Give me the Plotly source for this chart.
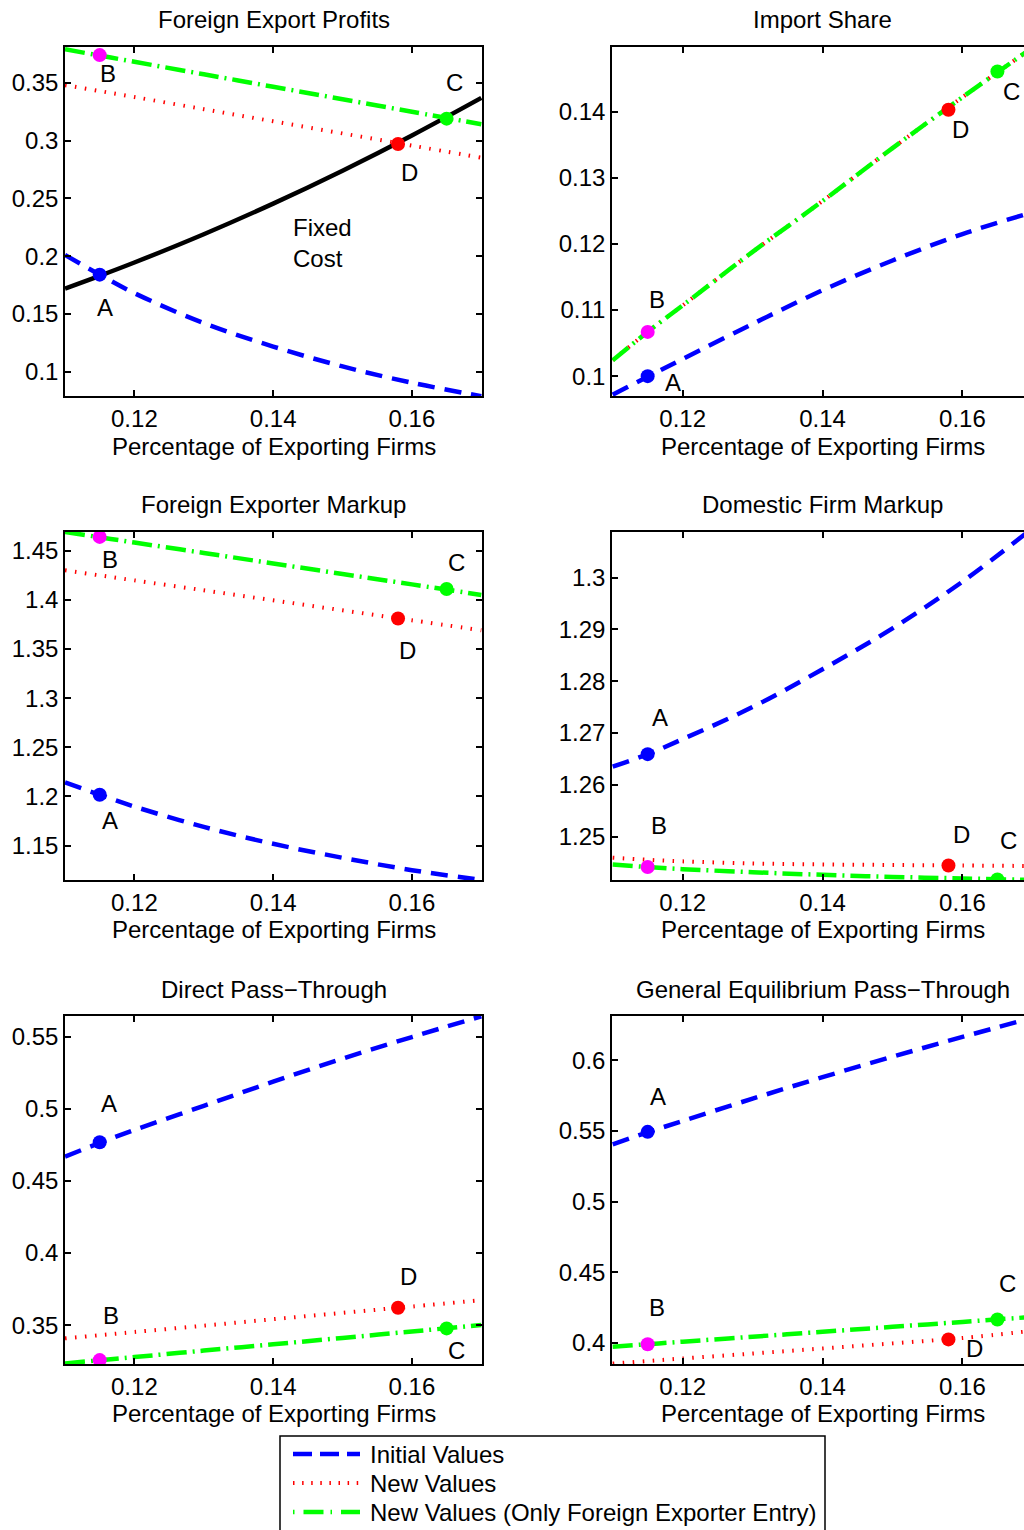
import plotly.graph_objects as go

# ---------------- data ----------------
x_share = [0.11, 0.115, 0.12, 0.13, 0.14, 0.15, 0.16, 0.17]

point_labels = ["A", "B", "C", "D"]
point_x = [0.115, 0.115, 0.165, 0.158]

# Foreign Export Profits
profits_initial = [0.201, 0.184, 0.168, 0.1421, 0.1218, 0.1046, 0.0905, 0.0788]
profits_new = [0.348, 0.3429, 0.3377, 0.3272, 0.3167, 0.3062, 0.2957, 0.2852]
profits_entry = [0.379, 0.3736, 0.3682, 0.3574, 0.3466, 0.3358, 0.3250, 0.3142]
profits_fixed_cost = [0.172, 0.183, 0.1945, 0.219, 0.2455, 0.274, 0.3045, 0.337]
profits_points = [0.184, 0.374, 0.319, 0.297]

# Import Share
import_initial = [0.0972, 0.0999, 0.1026, 0.1079, 0.1130, 0.1175, 0.1215, 0.1248]
import_new = [0.1024, 0.1067, 0.1107, 0.1188, 0.1265, 0.1345, 0.1422, 0.1497]
import_entry = [0.1024, 0.1067, 0.1107, 0.1188, 0.1265, 0.1345, 0.1422, 0.1497]
import_points = [0.1000, 0.1067, 0.1461, 0.1403]

# Foreign Exporter Markup
fmarkup_initial = [1.2143, 1.2017, 1.1897, 1.1690, 1.1518, 1.1376, 1.1250, 1.1150]
fmarkup_new = [1.430, 1.4249, 1.4198, 1.4097, 1.3995, 1.3893, 1.3792, 1.369]
fmarkup_entry = [1.469, 1.4637, 1.4583, 1.4477, 1.4370, 1.4263, 1.4157, 1.405]
fmarkup_points = [1.2017, 1.464, 1.411, 1.381]

# Domestic Firm Markup
dmarkup_initial = [1.2635, 1.2659, 1.2688, 1.2750, 1.2823, 1.2902, 1.2992, 1.3095]
dmarkup_new = [1.2459, 1.2455, 1.2452, 1.2448, 1.2446, 1.2445, 1.2444, 1.2443]
dmarkup_entry = [1.2446, 1.2441, 1.2437, 1.2431, 1.2426, 1.2422, 1.2419, 1.2416]
dmarkup_points = [1.2659, 1.2441, 1.2417, 1.2444]

# Direct Pass-Through
direct_initial = [0.467, 0.4765, 0.4855, 0.5022, 0.5190, 0.5350, 0.5500, 0.5644]
direct_new = [0.3408, 0.3430, 0.3452, 0.3496, 0.3541, 0.3585, 0.3629, 0.3673]
direct_entry = [0.3234, 0.3256, 0.3278, 0.3323, 0.3367, 0.3411, 0.3456, 0.3500]
direct_points = [0.4770, 0.3257, 0.3477, 0.3620]

# General Equilibrium Pass-Through
ge_initial = [0.5405, 0.5490, 0.5570, 0.5728, 0.5880, 0.6025, 0.6165, 0.6300]
ge_new = [0.3853, 0.3871, 0.3889, 0.3924, 0.3960, 0.3996, 0.4034, 0.4085]
ge_entry = [0.3972, 0.3990, 0.4008, 0.4043, 0.4078, 0.4113, 0.4148, 0.4183]
ge_points = [0.5493, 0.3990, 0.4165, 0.4024]

x_ticks = [0.12, 0.14, 0.16]
x_ticktext = ["0.12", "0.14", "0.16"]

titles = ["Foreign Export Profits", "Import Share", "Foreign Exporter Markup",
          "Domestic Firm Markup", "Direct Pass\u2212Through",
          "General Equilibrium Pass\u2212Through"]
x_title = "Percentage of Exporting Firms"
series_names = ["Initial Values", "New Values",
                "New Values (Only Foreign Exporter Entry)"]

y_ticks_1 = [0.1, 0.15, 0.2, 0.25, 0.3, 0.35]
y_ticks_2 = [0.1, 0.11, 0.12, 0.13, 0.14]
y_ticks_3 = [1.15, 1.2, 1.25, 1.3, 1.35, 1.4, 1.45]
y_ticks_4 = [1.25, 1.26, 1.27, 1.28, 1.29, 1.3]
y_ticks_5 = [0.35, 0.4, 0.45, 0.5, 0.55]
y_ticks_6 = [0.4, 0.45, 0.5, 0.55, 0.6]

# ---------------- styling / layout ----------------
W, H = 1024, 1530
FONT = "Liberation Sans, Arial, Helvetica, sans-serif"
FS = 24

BLUE, RED, GREEN, MAGENTA = "#0000ff", "#ff0000", "#00ff00", "#ff00ff"
point_colors = [BLUE, MAGENTA, GREEN, RED]

series_styles = [
    dict(color=BLUE, width=4.5, dash="17px,10px"),
    dict(color=RED, width=4, dash="1.5px,8.5px"),
    dict(color=GREEN, width=4.5, dash="20px,6px,2px,6px"),
]
legend_dashes = ["19px,8px", "1.5px,7.6px", "1.5px,9px,20px,7px"]

col_px = [(65, 482), (612, 1024)]
col_center_px = [273.5, 822.5]
row_px = [(47, 396), (532, 880), (1016, 1364)]
xtitle_px = [446, 930, 1413]
x_ranges = [[0.11, 0.1701], [0.1099, 0.1688]]

y_ranges = [[0.079, 0.381], [0.097, 0.1498], [1.115, 1.469],
            [1.2416, 1.3088], [0.323, 0.5646], [0.385, 0.6313]]

label_shifts = [
    [(5, -33), (8, -18), (8, 36), (11, -28)],
    [(25, -6), (9, 32), (14, -20), (12, -20)],
    [(10, -26), (10, -23), (10, 27), (9, -32)],
    [(12, 37), (11, 42), (11, 39), (13, 31)],
    [(9, 39), (11, 45), (10, -22), (10, 31)],
    [(10, 35), (9, 37), (10, 36), (26, -9)],
]

panels = [
    (profits_initial, profits_new, profits_entry, profits_points, y_ticks_1),
    (import_initial, import_new, import_entry, import_points, y_ticks_2),
    (fmarkup_initial, fmarkup_new, fmarkup_entry, fmarkup_points, y_ticks_3),
    (dmarkup_initial, dmarkup_new, dmarkup_entry, dmarkup_points, y_ticks_4),
    (direct_initial, direct_new, direct_entry, direct_points, y_ticks_5),
    (ge_initial, ge_new, ge_entry, ge_points, y_ticks_6),
]

fig = go.Figure()
annotations = []
shapes = []
layout_axes = {}
tfont = dict(size=FS, color="black", family=FONT)


def fmt(v):
    return ("%.4f" % v).rstrip("0").rstrip(".")


for i, (ini, new, ent, pts, yt) in enumerate(panels):
    n = i + 1
    r, c = divmod(i, 2)
    xa = "x" if n == 1 else "x%d" % n
    ya = "y" if n == 1 else "y%d" % n
    x0, x1 = col_px[c]
    y0, y1 = row_px[r]

    if n == 1:
        fig.add_trace(go.Scatter(x=x_share, y=profits_fixed_cost, mode="lines",
                                 name="Fixed Cost",
                                 line=dict(color="black", width=4.5, shape="spline"),
                                 showlegend=False, xaxis=xa, yaxis=ya))
    for k, vals in enumerate([ini, new, ent]):
        st = dict(series_styles[k])
        st["shape"] = "spline"
        fig.add_trace(go.Scatter(x=x_share, y=vals, mode="lines", line=st,
                                 name=series_names[k], showlegend=False,
                                 xaxis=xa, yaxis=ya))
    fig.add_trace(go.Scatter(x=point_x, y=pts, mode="markers",
                             marker=dict(color=point_colors, size=14,
                                         line=dict(width=0)),
                             text=point_labels, showlegend=False,
                             xaxis=xa, yaxis=ya))
    for j, lab in enumerate(point_labels):
        dx, dy = label_shifts[i][j]
        annotations.append(dict(x=point_x[j], y=pts[j], xref=xa, yref=ya,
                                text=lab, showarrow=False, xshift=dx, yshift=dy,
                                font=tfont))

    common = dict(showline=True, linecolor="black", linewidth=1.5,
                  ticks="inside", ticklen=6, tickwidth=1.5, tickcolor="black",
                  showgrid=False, zeroline=False, fixedrange=True,
                  tickfont=tfont)
    layout_axes["xaxis" if n == 1 else "xaxis%d" % n] = dict(
        common, domain=[x0 / W, x1 / W], range=x_ranges[c], anchor=ya,
        tickvals=x_ticks, ticktext=x_ticktext, mirror="ticks")
    layout_axes["yaxis" if n == 1 else "yaxis%d" % n] = dict(
        common, domain=[1 - y1 / H, 1 - y0 / H], range=y_ranges[i], anchor=xa,
        tickvals=yt, ticktext=[fmt(v) for v in yt],
        mirror=("ticks" if c == 0 else False))

    # subplot title
    annotations.append(dict(x=col_center_px[c] / W, y=1 - (y0 - 27) / H,
                            xref="paper", yref="paper", xanchor="center",
                            yanchor="middle", text=titles[i], showarrow=False,
                            font=tfont))
    # x-axis title
    annotations.append(dict(x=col_center_px[c] / W, y=1 - xtitle_px[r] / H,
                            xref="paper", yref="paper", xanchor="center",
                            yanchor="middle", text=x_title, showarrow=False,
                            font=tfont))

annotations.append(dict(x=0.1425, y=0.2112, xref="x", yref="y",
                        text="Fixed<br>Cost", showarrow=False, xanchor="left",
                        align="left", font=tfont))

# legend box (bottom edge runs past the page, as in the reference)
LEG_L, LEG_R, LEG_T = 280, 825, 1436
shapes.append(dict(type="rect", xref="paper", yref="paper",
                   x0=LEG_L / W, x1=LEG_R / W, y0=1 - 1560 / H, y1=1 - LEG_T / H,
                   line=dict(color="black", width=1.5), fillcolor="white",
                   layer="above"))
legend_rows_px = [1454, 1483, 1512]
for k, name in enumerate(series_names):
    yy = 1 - legend_rows_px[k] / H
    shapes.append(dict(type="line", xref="paper", yref="paper",
                       x0=293 / W, x1=360 / W, y0=yy, y1=yy, layer="above",
                       line=dict(color=series_styles[k]["color"],
                                 width=series_styles[k]["width"],
                                 dash=legend_dashes[k])))
    annotations.append(dict(x=368 / W, y=yy, xref="paper", yref="paper",
                            xanchor="left", yanchor="middle", text=name,
                            showarrow=False, font=tfont))

fig.update_layout(
    width=W, height=H,
    margin=dict(l=0, r=0, t=0, b=0, autoexpand=False),
    paper_bgcolor="white", plot_bgcolor="white",
    font=dict(family=FONT, size=FS, color="black"),
    annotations=annotations,
    shapes=shapes,
    showlegend=False,
    **layout_axes,
)

fig.write_html("out.html")
